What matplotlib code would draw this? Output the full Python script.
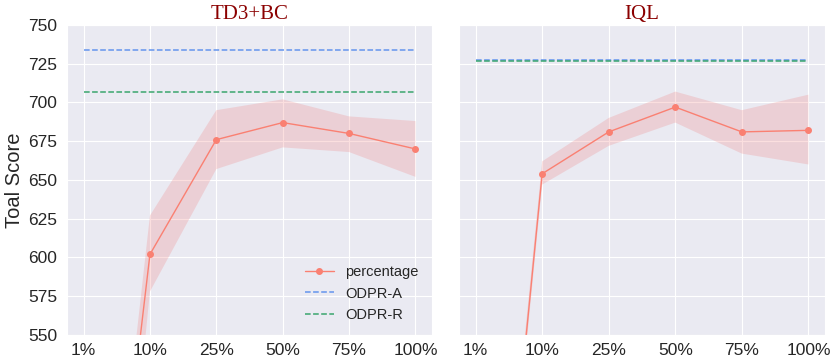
import matplotlib
matplotlib.use('Agg')
import matplotlib.pyplot as plt
import seaborn as sns

sns.set_style('darkgrid')
plt.rcParams['font.family'] = ['Liberation Sans', 'DejaVu Sans']

ratios = ['1%', '10%', '25%', '50%', '75%', '100%']

# TD3+BC
td3_mean = [238, 602, 676, 687, 680, 670]
td3_low = [147, 578, 657, 671, 668, 652]
td3_high = [245, 627, 695, 702, 691, 688]
td3_odpr_a = 734
td3_odpr_r = 707

# IQL
iql_mean = [220, 654, 681, 697, 681, 682]
iql_low = [210, 647, 672, 687, 667, 660]
iql_high = [230, 662, 690, 707, 695, 705]
iql_odpr_a = 727.6
iql_odpr_r = 726.6

panels = [('TD3+BC', td3_mean, td3_low, td3_high, td3_odpr_a, td3_odpr_r),
          ('IQL', iql_mean, iql_low, iql_high, iql_odpr_a, iql_odpr_r)]

fig = plt.figure(figsize=(8.3, 3.56), dpi=100)
ax1 = fig.add_axes([0.0807, 0.059, 0.4398, 0.871])
ax2 = fig.add_axes([0.553, 0.059, 0.441, 0.871], sharey=ax1)

xs = list(range(len(ratios)))
for ax, (name, mean, low, high, oa, orr) in zip([ax1, ax2], panels):
    ax.fill_between(xs, low, high, color='lightcoral', alpha=0.25, linewidth=0)
    ax.plot(xs, mean, color='salmon', marker='o', markersize=4,
            linewidth=1, label='percentage')
    ax.hlines(oa, xs[0], xs[-1], colors='cornflowerblue', linestyles='--',
              linewidth=1.1, label='ODPR-A')
    ax.hlines(orr, xs[0], xs[-1], colors='#3aa66e', linestyles='--',
              linewidth=1.1, label='ODPR-R')
    ax.set_title(name, family='Liberation Serif', color='darkred', fontsize=15,
                 pad=4)
    ax.set_xticks(xs)
    ax.set_xticklabels(ratios, fontsize=12.5)
    ax.set_xlim(-0.25, 5.25)
    ax.tick_params(axis='x', pad=2)
    ax.tick_params(axis='y', labelsize=12.5)

ax1.set_ylim(550, 750)
ax1.set_ylabel('Toal Score', fontsize=14.5, labelpad=3)
ax1.legend(loc='lower right', frameon=False, fontsize=10.5)
plt.setp(ax2.get_yticklabels(), visible=False)

fig.savefig('out.png', dpi=100)
